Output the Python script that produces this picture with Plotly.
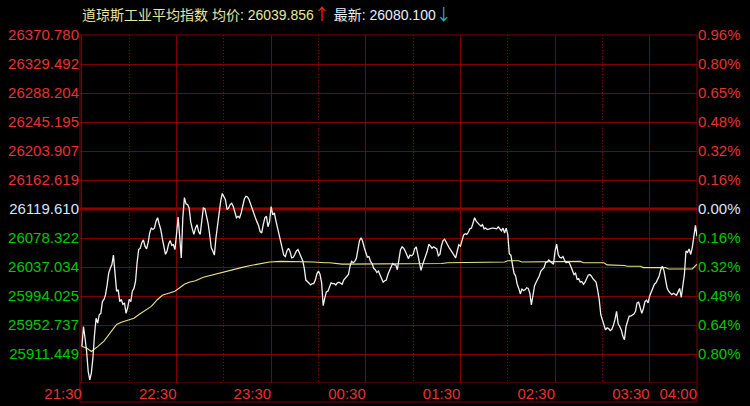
import plotly.graph_objects as go

# ---------------- data ----------------
title_name = "道琼斯工业平均指数"
avg_label = "均价"
avg_value_text = "26039.856"
last_label = "最新"
last_value_text = "26080.100"

prev_close = 26119.61
axis_top = 26370.78

left_labels = ["26370.780", "26329.492", "26288.204", "26245.195", "26203.907", "26162.619",
               "26119.610", "26078.322", "26037.034", "25994.025", "25952.737", "25911.449", ""]
right_labels = ["0.96%", "0.80%", "0.65%", "0.48%", "0.32%", "0.16%",
                "0.00%", "0.16%", "0.32%", "0.48%", "0.64%", "0.80%", ""]

time_labels = ["21:30", "22:30", "23:30", "00:30", "01:30", "02:30", "03:30", "04:00"]
time_label_minutes = [0, 60, 120, 180, 240, 300, 360, 390]
hour_mark_minutes = [30, 90, 150, 210, 270, 330]

# one value per minute from 21:30 to 04:00
price = [
    25921, 25950, 25933, 25914, 25885, 25873, 25883, 25905, 25938, 25962,
    25955, 25967, 25969, 25986, 25989, 25996, 26010, 26027, 26034, 26039,
    26053, 26022, 26001, 26003, 25986, 25989, 25982, 25984, 25969, 25977,
    25989, 25986, 26001, 26005, 26015, 26042, 26061, 26063, 26071, 26075,
    26066, 26062, 26071, 26085, 26092, 26090, 26092, 26102, 26107, 26098,
    26090, 26077, 26063, 26054, 26059, 26069, 26074, 26067, 26068, 26061,
    26083, 26108, 26080, 26049, 26107, 26136, 26127, 26126, 26121, 26101,
    26091, 26083, 26092, 26097, 26087, 26083, 26102, 26121, 26120, 26110,
    26099, 26083, 26064, 26059, 26053, 26078, 26099, 26119, 26131, 26142,
    26137, 26133, 26119, 26121, 26126, 26128, 26123, 26114, 26107, 26109,
    26107, 26114, 26126, 26134, 26138, 26137, 26133, 26126, 26118, 26111,
    26107, 26101, 26096, 26087, 26085, 26097, 26107, 26109, 26094, 26102,
    26123, 26111, 26114, 26103, 26093, 26083, 26072, 26062, 26053, 26051,
    26059, 26063, 26058, 26049, 26050, 26054, 26059, 26061, 26056, 26052,
    26045, 26034, 26017, 26015, 26013, 26010, 26012, 26012, 26017, 26026,
    26030, 26025, 26013, 25980, 25991, 26000, 26001, 26008, 26013, 26012,
    26012, 26010, 26013, 26014, 26013, 26011, 26017, 26020, 26022, 26025,
    26037, 26044, 26042, 26044, 26048, 26064, 26074, 26078, 26073, 26064,
    26056, 26050, 26051, 26044, 26041, 26034, 26032, 26028, 26030, 26024,
    26020, 26014, 26016, 26017, 26025, 26030, 26034, 26041, 26039, 26039,
    26032, 26051, 26061, 26065, 26063, 26059, 26053, 26048, 26053, 26052,
    26054, 26062, 26065, 26055, 26042, 26031, 26039, 26045, 26051, 26059,
    26069, 26066, 26063, 26065, 26064, 26062, 26052, 26054, 26067, 26074,
    26076, 26071, 26068, 26063, 26060, 26056, 26053, 26049, 26059, 26068,
    26066, 26075, 26082, 26084, 26083, 26086, 26091, 26092, 26098, 26107,
    26102, 26099, 26097, 26095, 26097, 26091, 26092, 26090, 26091, 26091,
    26092, 26092, 26091, 26091, 26094, 26091, 26088, 26092, 26085, 26092,
    26083, 26055, 26053, 26039, 26027, 26023, 26011, 26005, 25997, 26004,
    26002, 26003, 26006, 26005, 25998, 25981, 25996, 26009, 26014, 26018,
    26023, 26030, 26032, 26035, 26042, 26043, 26046, 26044, 26041, 26040,
    26059, 26069, 26054, 26050, 26049, 26051, 26046, 26042, 26043, 26042,
    26037, 26031, 26025, 26027, 26018, 26019, 26014, 26015, 26011, 26014,
    26020, 26024, 26025, 26023, 26019, 26017, 26014, 26003, 25989, 25967,
    25959, 25952, 25945, 25948, 25947, 25944, 25946, 25952, 25960, 25972,
    25954, 25950, 25945, 25936, 25931, 25950, 25959, 25965, 25965, 25966,
    25968, 25972, 25984, 25985, 25978, 25969, 25976, 25986, 25988, 25984,
    25994, 26000, 26006, 26011, 26013, 26018, 26023, 26032, 26037, 26031,
    26018, 26006, 26001, 25998, 25996, 25998, 25996, 25995, 26000, 26005,
    25992, 26006, 26025, 26059, 26057, 26062, 26054, 26064, 26078, 26096,
    26080.1,
]
minutes = list(range(len(price)))

avg_minutes = [0, 3, 6, 8, 10, 14, 17, 20, 22, 25, 30, 33, 36, 40, 44, 48, 51, 55, 59, 62,
               65, 68, 72, 77, 82, 88, 95, 101, 107, 113, 119, 126, 132, 139, 147, 154, 157,
               165, 175, 190, 210, 228, 232, 250, 252, 268, 270, 277, 279, 307, 309, 316, 318,
               331, 333, 338, 340, 344, 346, 354, 356, 370, 372, 387, 390]
avg_price = [25921, 25919, 25914, 25917, 25921, 25929, 25938, 25948, 25953, 25956, 25960,
             25962, 25967, 25973, 25979, 25989, 25995, 25998, 26001, 26006, 26011, 26014,
             26016, 26021, 26024, 26027, 26032, 26035, 26038, 26040, 26043, 26044, 26044,
             26044, 26043, 26042, 26042, 26040, 26040, 26041, 26041, 26041, 26042, 26042,
             26043, 26043, 26045, 26045, 26043, 26043, 26044, 26044, 26042, 26042, 26039,
             26039, 26038, 26038, 26037, 26037, 26035, 26035, 26033, 26033, 26039.856]

# ---------------- style ----------------
RED = "#E83232"
GREEN = "#00C800"
BASE_C = "#D8E6FF"
GRID = "#800000"
FONT = "Liberation Sans, Arial, Noto Sans CJK SC, sans-serif"

n_steps = 6
step = (axis_top - prev_close) / n_steps
axis_bottom = prev_close - n_steps * step
tickvals = [axis_top - i * step for i in range(2 * n_steps + 1)]


def colour_for(i):
    if i < n_steps:
        return RED
    if i == n_steps:
        return BASE_C
    return GREEN


left_text = [f'<span style="color:{colour_for(i)}">{t}</span>' for i, t in enumerate(left_labels)]
right_text = [f'<span style="color:{colour_for(i)}">{t}</span>' for i, t in enumerate(right_labels)]

fig = go.Figure()
fig.add_trace(go.Scatter(x=avg_minutes, y=avg_price, mode="lines",
                         line=dict(color="#E6E682", width=1.1), hoverinfo="skip"))
fig.add_trace(go.Scatter(x=minutes, y=price, mode="lines",
                         line=dict(color="#F2F2F2", width=1.3)))
fig.add_trace(go.Scatter(x=minutes, y=price, mode="lines", yaxis="y2",
                         line=dict(color="rgba(0,0,0,0)", width=0), hoverinfo="skip"))

W, H = 750, 406
ml, mr, mt, mb = 80, 53, 35, 23
plot_h = H - mt - mb
frame_bottom = -(402 - (H - mb)) / plot_h

ARROW_STYLE = "font-size:16px;font-family:Noto Sans CJK SC"

fig.update_layout(
    width=W, height=H,
    margin=dict(l=ml, r=mr, t=mt, b=mb, autoexpand=False),
    paper_bgcolor="black", plot_bgcolor="black",
    showlegend=False,
    font=dict(family=FONT),
    xaxis=dict(
        range=[-1.2, 390], tickvals=time_label_minutes, ticktext=time_labels,
        showgrid=True, gridcolor=GRID, gridwidth=1, zeroline=False, showline=False,
        ticks="", ticklabelposition="outside left", tickangle=0, automargin=False,
        tickfont=dict(color=RED, size=15, family=FONT),
        minor=dict(tickvals=hour_mark_minutes, showgrid=True, gridcolor=GRID,
                   griddash="1px,2px", gridwidth=1),
    ),
    yaxis=dict(
        range=[axis_bottom, axis_top], tickvals=tickvals, ticktext=left_text,
        showgrid=True, gridcolor=GRID, gridwidth=1, zeroline=False, showline=False,
        ticks="", automargin=False, tickfont=dict(size=15, family=FONT),
    ),
    yaxis2=dict(
        range=[axis_bottom, axis_top], tickvals=tickvals, ticktext=right_text,
        overlaying="y", side="right", showgrid=False, zeroline=False, showline=False,
        ticks="", automargin=False, tickfont=dict(size=15, family=FONT),
    ),
    shapes=[
        dict(type="rect", xref="paper", yref="paper", x0=0, x1=1, y0=frame_bottom, y1=1,
             line=dict(color=GRID, width=1), layer="below"),
        dict(type="line", xref="paper", yref="y", x0=0, x1=1, y0=axis_bottom, y1=axis_bottom,
             line=dict(color=GRID, width=1), layer="below"),
        dict(type="line", xref="paper", yref="y", x0=0, x1=1, y0=prev_close, y1=prev_close,
             line=dict(color="#9A0000", width=3), layer="below"),
    ],
    annotations=[
        dict(
            xref="paper", yref="paper", x=0, y=1 + 22 / plot_h,
            xanchor="left", yanchor="middle", showarrow=False,
            font=dict(size=14, family=FONT),
            text=(f'<span style="color:#E6E6A0">{title_name} {avg_label}: {avg_value_text}</span>'
                  f'<span style="color:#FF2020;{ARROW_STYLE}">↑</span>'
                  f'<span style="color:#E8F0FF"> {last_label}: {last_value_text}</span>'
                  f'<span style="color:#20B8D0;{ARROW_STYLE}">↓</span>'),
        )
    ],
)

fig.write_html("out.html",
               config={"displayModeBar": False, "staticPlot": True},
               post_script="document.body.style.margin='0px';"
                           "document.body.style.overflow='hidden';")
